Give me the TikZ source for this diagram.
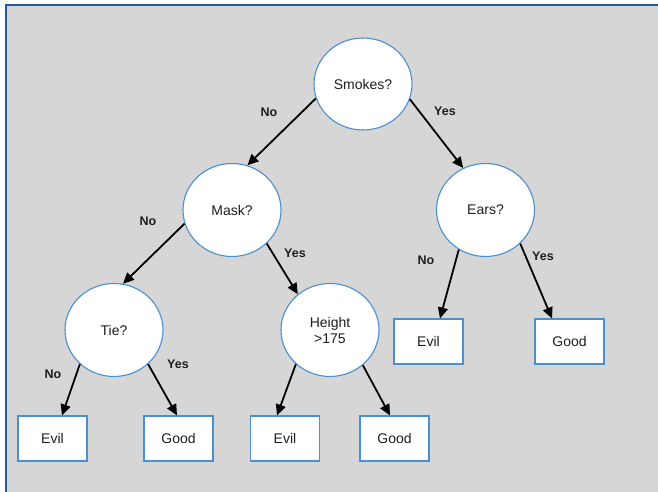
\documentclass[tikz,border=0pt]{standalone}
\usepackage{fontspec}
\setmainfont{Liberation Sans}
\usetikzlibrary{shapes.geometric,arrows.meta}
\definecolor{bg}{HTML}{D6D6D6}
\definecolor{framec}{HTML}{1F5C99}
\definecolor{nodeblue}{HTML}{4A8FD0}
\definecolor{txt}{HTML}{1E1E1E}
\tikzset{
  dec/.style={ellipse, draw=nodeblue, line width=1.1pt, fill=white,
    minimum width=98pt, minimum height=93pt, inner sep=0pt,
    font=\fontsize{14}{17}\selectfont, text=txt, align=center},
  leaf/.style={rectangle, draw=nodeblue, line width=1.1pt, fill=white,
    minimum width=69pt, minimum height=45pt, inner sep=0pt,
    font=\fontsize{14}{17}\selectfont, text=txt},
  edge/.style={line width=1.8pt, black, -{Triangle[length=11pt,width=10pt]}},
  lbl/.style={font=\bfseries\fontsize{12.5}{15}\selectfont, text=txt, inner sep=0pt},
}
\begin{document}
\begin{tikzpicture}[x=1pt,y=-1pt]
\useasboundingbox (0,0) rectangle (658,492);
\fill[white] (0,0) rectangle (658,492);
\fill[bg] (6,5) rectangle (658,492);
\draw[framec, line width=2pt] (6,492) -- (6,5) -- (658,5);

% decision nodes
\node[dec, minimum height=92pt] (smokes) at (363,84) {Smokes?};
\node[dec] (mask) at (232,210) {Mask?};
\node[dec] (ears) at (485.5,210) {Ears?};
\node[dec] (tie) at (114,330) {Tie?};
\node[dec] (height) at (330,330) {Height\\[-1pt]>175};

% leaves
\node[leaf] (e1) at (52.5,438.5) {Evil};
\node[leaf] (g1) at (178.5,438.5) {Good};
\node[leaf] (e2) at (285,438.5) {Evil};
\node[leaf] (g2) at (394.5,438.5) {Good};
\node[leaf] (e3) at (428.5,341.5) {Evil};
\node[leaf] (g3) at (569.5,341.5) {Good};

% edges
\draw[edge] (smokes.197) -- (mask.71);
\draw[edge] (smokes.342) -- (ears.118);
\draw[edge] (mask.196) -- (tie.79);
\draw[edge] (mask.316) -- (height.132);
\draw[edge] (tie.225) -- ([xshift=9.5pt]e1.north);
\draw[edge] (tie.315) -- ([xshift=-1.5pt]g1.north);
\draw[edge] (height.225) -- ([xshift=-8pt]e2.north);
\draw[edge] (height.313) -- ([xshift=-4.5pt]g2.north);
\draw[edge] (ears.236) -- ([xshift=11.5pt]e3.north);
\draw[edge] (ears.316) -- ([xshift=-17.5pt]g3.north);

% labels
\node[lbl] (l1) at (269,112) {No};
\node[lbl] (l2) at (445,111) {Yes};
\node[lbl] (l3) at (148,221) {No};
\node[lbl] (l4) at (295,253) {Yes};
\node[lbl] (l5) at (53,374) {No};
\node[lbl] (l6) at (178,364) {Yes};
\node[lbl] (l7) at (426,260) {No};
\node[lbl] (l8) at (543,256) {Yes};
\end{tikzpicture}
\end{document}
